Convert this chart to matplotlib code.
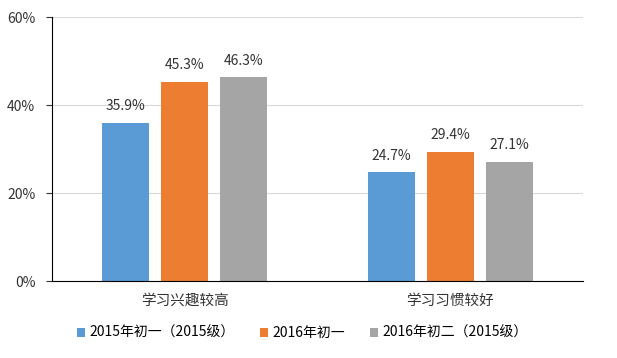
import matplotlib
matplotlib.use("Agg")
import matplotlib.pyplot as plt
import numpy as np
from matplotlib.ticker import PercentFormatter

plt.rcParams["font.family"] = ["Noto Sans CJK SC", "DejaVu Sans"]

categories = ["学习兴趣较高", "学习习惯较好"]
series_names = ["2015年初一（2015级）", "2016年初一", "2016年初二（2015级）"]
series_values = [
    [35.9, 24.7],
    [45.3, 29.4],
    [46.3, 27.1],
]
colors = ["#5B9BD5", "#ED7D31", "#A5A5A5"]
yticks = [0, 20, 40, 60]

fig = plt.figure(figsize=(6.17, 3.58), dpi=100)
ax = fig.add_axes([0.0843, 0.215, 0.8607, 0.7375])

x = np.arange(len(categories))
width = 0.177
step = 0.222
for i, (name, vals) in enumerate(zip(series_names, series_values)):
    pos = x + (i - 1) * step
    bars = ax.bar(pos, vals, width, color=colors[i], label=name, zorder=2)
    for b, v in zip(bars, vals):
        ax.text(b.get_x() + b.get_width() / 2, v + 2.2, f"{v:.1f}%",
                ha="center", va="bottom", fontsize=10, color="#333333")

ax.set_xlim(-0.5, 1.5)
ax.set_ylim(0, 60)
ax.set_yticks(yticks)
ax.yaxis.set_major_formatter(PercentFormatter(decimals=0))
ax.set_xticks(x)
ax.set_xticklabels(categories, fontsize=10.5, color="#333333")
ax.tick_params(axis="y", labelsize=10, colors="#333333", length=4, pad=8)
ax.tick_params(axis="x", length=0, pad=9)
ax.grid(axis="y", color="#D9D9D9", linewidth=0.8, zorder=0)
for side in ["top", "right"]:
    ax.spines[side].set_visible(False)
ax.spines["left"].set_color("black")
ax.spines["bottom"].set_color("black")

fig.legend(loc="lower center", ncol=3, frameon=False, fontsize=10,
           handlelength=0.6, handleheight=0.6, handletextpad=0.3,
           columnspacing=1.8, bbox_to_anchor=(0.49, 0.015))

fig.savefig("out.png", dpi=100)
